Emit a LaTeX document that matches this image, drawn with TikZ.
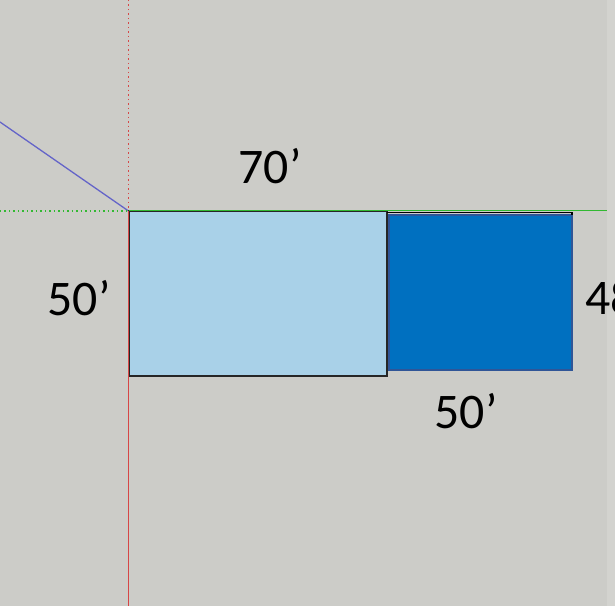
\documentclass[tikz,border=0pt]{standalone}
\usepackage{fontspec}
\setmainfont{Carlito}
\definecolor{bggray}{RGB}{204,204,200}
\definecolor{bgedge}{RGB}{211,211,207}
\definecolor{lotblue}{RGB}{169,209,232}
\definecolor{housblue}{RGB}{0,112,192}
\definecolor{housedge}{RGB}{47,85,151}
\definecolor{axisred}{RGB}{214,70,70}
\definecolor{axisgreen}{RGB}{50,185,50}
\definecolor{axisblue}{RGB}{100,100,200}
\tikzset{
  dimlabel/.style={inner sep=0pt,font=\fontsize{50}{60}\selectfont},
  axisdots/.style={line width=1.5pt,dash pattern=on 1.5pt off 3pt},
}
\begin{document}
\begin{tikzpicture}[x=1bp,y=-1bp]
\clip (0,0) rectangle (615,606);
\fill[bggray] (0,0) rectangle (615,606);
\fill[bgedge] (607,0) rectangle (615,606);
\draw[axisblue,line width=1.3pt] (0,122) -- (128.5,211);
\draw[axisred,axisdots] (128.5,0) -- (128.5,211);
\draw[axisgreen,axisdots] (0,211) -- (128.5,211);
\fill[lotblue] (129,211) rectangle (387,376);
\draw[black!85,line width=2pt] (129,211) rectangle (387,376);
\fill[housblue] (388,214) rectangle (573,371);
\draw[housedge,line width=2pt] (389,215) rectangle (572,370);
\draw[black,line width=1.8pt] (387,212.5) -- (572,212.5) -- (572,215);
\draw[axisgreen,line width=1.6pt] (128.5,210.5) -- (607,210.5);
\draw[axisred,line width=1.6pt] (128.5,211) -- (128.5,606);
\node[dimlabel,anchor=base] (top70) at (270,184) {70’};
\node[dimlabel,anchor=base] (left50) at (79,315) {50’};
\node[dimlabel,anchor=base] (bottom50) at (466,428) {50’};
\node[dimlabel,anchor=base west] (right48) at (585,314) {48’};
\end{tikzpicture}
\end{document}
